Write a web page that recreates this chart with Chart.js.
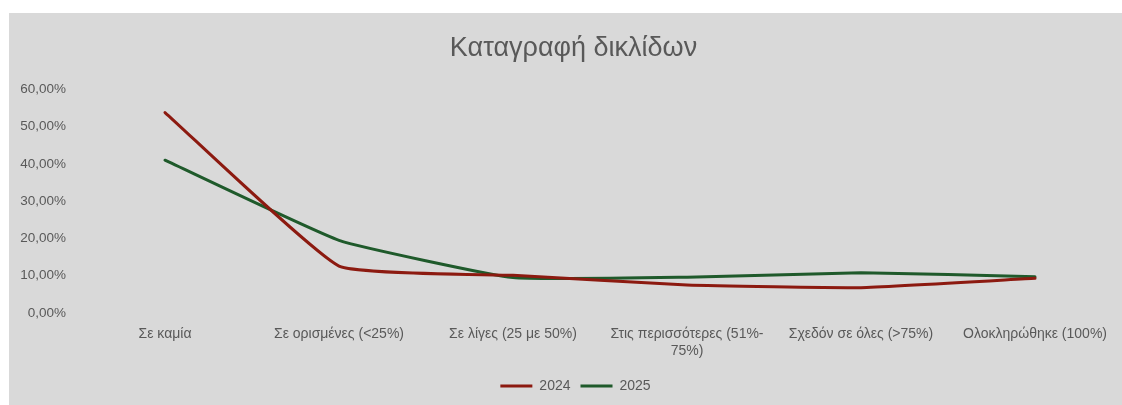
<!DOCTYPE html>
<html>
<head>
<meta charset="utf-8">
<script src="https://cdn.jsdelivr.net/npm/chart.js@4.4.1/dist/chart.umd.min.js"></script>
<style>
  html, body { margin: 0; padding: 0; background: #ffffff; }
  #wrap { position: absolute; left: 9px; top: 13px; width: 1113px; height: 392px; background: #d9d9d9; }
  canvas { display: block; }
</style>
</head>
<body>
<div id="wrap"><canvas id="c" width="1113" height="392"></canvas></div>
<script>
const titleText = "Καταγραφή δικλίδων";
const categories = [
  "Σε καμία",
  "Σε ορισμένες (<25%)",
  "Σε λίγες (25 με 50%)",
  ["Στις περισσότερες (51%-", "75%)"],
  "Σχεδόν σε όλες (>75%)",
  "Ολοκληρώθηκε (100%)"
];
const seriesNames = ["2024", "2025"];
const values2024 = [53.8, 12.6, 10.1, 7.5, 6.8, 9.3];
const values2025 = [41.0, 19.5, 9.5, 9.6, 10.8, 9.7];
const yTicks = [0, 10, 20, 30, 40, 50, 60];

const textColor = "#595959";
const fontFamily = "'Liberation Sans', Arial, sans-serif";

// Shift title and legend boxes slightly right, as in the reference
const shiftBoxes = {
  id: "shiftBoxes",
  afterLayout(chart) {
    if (chart.titleBlock) { chart.titleBlock.left += 8; chart.titleBlock.right += 8; }
    if (chart.legend) {
      chart.legend.left += 10; chart.legend.right += 10;
      chart.legend.legendHitBoxes.forEach(b => { b.left += 10; });
    }
  }
};

new Chart(document.getElementById("c"), {
  type: "line",
  data: {
    labels: categories,
    datasets: [
      { label: seriesNames[0], data: values2024, borderColor: "#8c1a10", backgroundColor: "#8c1a10",
        borderWidth: 3, pointRadius: 0, tension: 0.12, borderCapStyle: "round", borderJoinStyle: "round" },
      { label: seriesNames[1], data: values2025, borderColor: "#1f5a2b", backgroundColor: "#1f5a2b",
        borderWidth: 3, pointRadius: 0, tension: 0.12, borderCapStyle: "round", borderJoinStyle: "round" }
    ]
  },
  options: {
    responsive: false,
    animation: false,
    layout: { padding: { left: 0, right: 0, top: 0, bottom: 2 } },
    plugins: {
      title: {
        display: true, text: titleText, color: textColor,
        font: { family: fontFamily, size: 27, weight: "normal" },
        padding: { top: 19, bottom: 25 }
      },
      legend: {
        position: "bottom",
        labels: {
          color: textColor, usePointStyle: true, pointStyle: "line", pointStyleWidth: 32,
          font: { family: fontFamily, size: 14 }, padding: 10, boxHeight: 14
        }
      },
      tooltip: { enabled: false }
    },
    scales: {
      x: {
        offset: true,
        grid: { display: false, drawTicks: false, offset: true },
        border: { display: false },
        ticks: { color: textColor, font: { family: fontFamily, size: 14 }, maxRotation: 0, autoSkip: false, padding: 13 },
        afterFit: (s) => { s.height = 56; }
      },
      y: {
        min: 0, max: 60,
        grid: { display: false, drawTicks: false },
        border: { display: false },
        afterBuildTicks: (s) => { s.ticks = yTicks.map(v => ({ value: v })); },
        ticks: { color: textColor, font: { family: fontFamily, size: 13.5 }, padding: 12,
          callback: (v) => v.toFixed(2).replace(".", ",") + "%" },
        afterFit: (s) => { s.width = 69; }
      }
    }
  },
  plugins: [shiftBoxes]
});
</script>
</body>
</html>
